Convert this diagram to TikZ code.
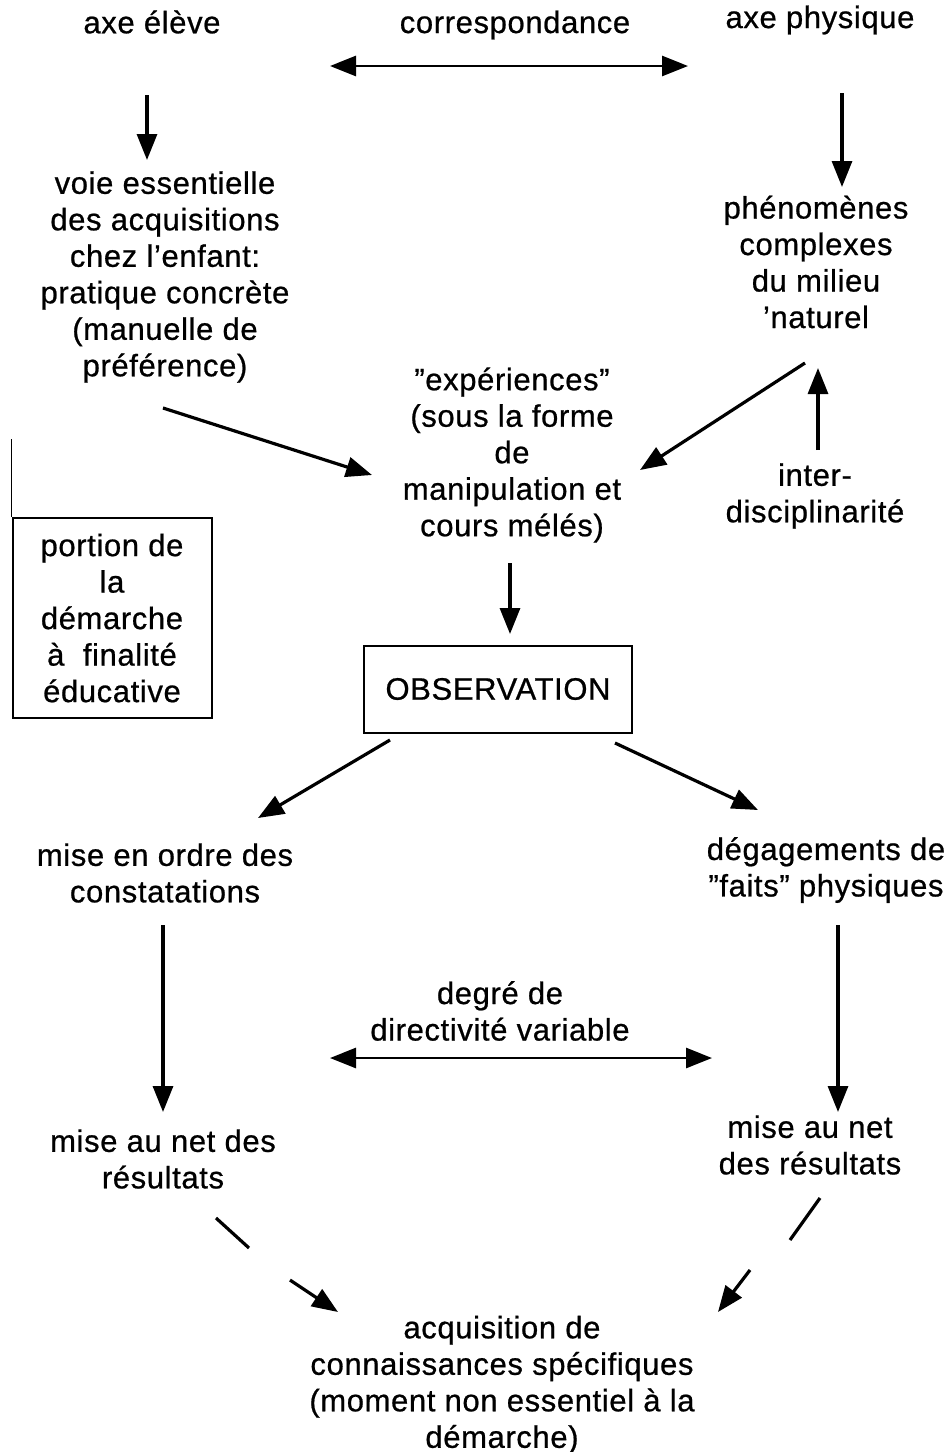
\documentclass[tikz,border=0pt]{standalone}
\usepackage{fontspec}
\setmainfont{Liberation Sans}[LetterSpace=2, FakeBold=0.7]
\usepackage{tikz}
\usetikzlibrary{
  positioning,
  calc,
  arrows.meta
}
\tikzstyle{txt}=[align=center, inner sep=0pt, font=\fontsize{31}{36.5}\selectfont]
\tikzstyle{flow}=[-{Triangle[length=26pt, width=20pt]}, line width=3.2pt]
\tikzstyle{both}=[{Triangle[length=26pt, width=20pt]}-{Triangle[length=26pt, width=20pt]}, line width=2.8pt]
\tikzstyle{cadre}=[draw, line width=2pt]

\begin{document}
\begin{tikzpicture}[x=1pt, y=-1pt]
        \useasboundingbox (0,0) rectangle (945,1452);

        % 上段の見出し
        \node[txt] (eleve) at (152,22) {axe élève};
        \node[txt] (corresp) at (515,25) {correspondance};
        \node[txt] (phys) at (820,20) {axe physique};

        % 二つの軸
        \node[txt] (voie) at (165,277) {voie essentielle\\des acquisitions\\chez l'enfant:\\pratique concrète\\(manuelle de\\préférence)};
        \node[txt] (phen) at (816,262) {phénomènes\\complexes\\du milieu\\'naturel};

        % 中央の「expériences」
        \node[txt] (exp) at (512,455) {"expériences"\\(sous la forme\\de\\manipulation et\\cours mélés)};
        \node[txt] (inter) at (815,496) {inter-\\disciplinarité};

        % 枠つきの項目
        \node[txt, cadre, minimum width=199pt, minimum height=200pt] (portion) at (112,618) {portion de\\la\\démarche\\à~~finalité\\éducative};
        \node[txt, cadre, minimum width=268pt, minimum height=87pt] (obs) at (498,689) {OBSERVATION};

        % 下段
        \node[txt] (ordre) at (165,873) {mise en ordre des\\constatations};
        \node[txt] (faits) at (826,870) {dégagements de\\"faits" physiques};
        \node[txt] (degre) at (500,1011) {degré de\\directivité variable};
        \node[txt] (resL) at (163,1159) {mise au net des\\résultats};
        \node[txt] (resR) at (810,1145) {mise au net\\des résultats};
        \node[txt] (acq) at (502,1385) {acquisition de\\connaissances spécifiques\\(moment non essentiel à la\\démarche)};

        % 枠の上に伸びる線
        \draw[line width=1pt] (portion.north west) -- ($(portion.north west)+(0,-78)$);

        % 上段の矢印
        \draw[both] ($(corresp)+(-185,41)$) -- ($(corresp)+(173,41)$);
        \draw[flow] ($(eleve)+(-5,73)$) -- ($(voie)+(-18,-117)$);
        \draw[flow] ($(phys)+(22,73)$) -- ($(phen)+(26,-75)$);

        % expériences へ向かう矢印
        \draw[flow] ($(voie)+(-2,131)$) -- ($(exp)+(-140,20)$);
        \draw[flow] ($(phen)+(-11,101)$) -- ($(exp)+(128,15)$);
        \draw[flow] ($(inter)+(3,-46)$) -- ($(phen)+(2,106)$);
        \draw[flow] ($(exp)+(-2,108)$) -- ($(obs)+(12,-55)$);

        % OBSERVATION から分かれる矢印
        \draw[flow] ($(obs)+(-108,51)$) -- ($(ordre)+(93,-55)$);
        \draw[flow] ($(obs)+(117,54)$) -- ($(faits)+(-68,-60)$);
        \draw[flow] ($(ordre)+(-2,52)$) -- ($(resL)+(0,-47)$);
        \draw[flow] ($(faits)+(12,55)$) -- ($(resR)+(28,-33)$);
        \draw[both] ($(degre)+(-170,47)$) -- ($(degre)+(212,47)$);

        % 途切れた矢印
        \draw[line width=3.2pt] ($(resL)+(53,59)$) -- ($(resL)+(86,89)$);
        \draw[flow] ($(acq)+(-212,-105)$) -- ($(acq)+(-164,-73)$);
        \draw[line width=3.2pt] ($(resR)+(10,53)$) -- ($(resR)+(-20,95)$);
        \draw[flow] ($(acq)+(248,-115)$) -- ($(acq)+(216,-73)$);
\end{tikzpicture}
\end{document}
